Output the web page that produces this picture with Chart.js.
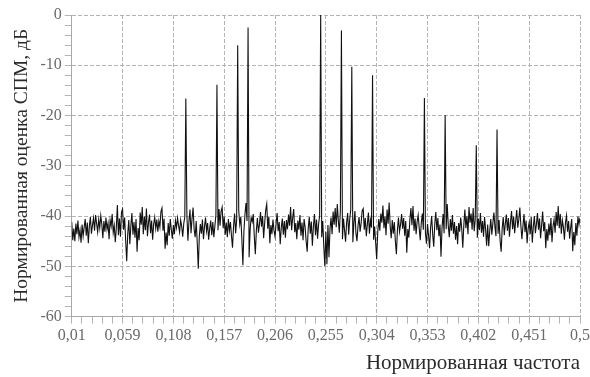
<!DOCTYPE html>
<html>
<head>
<meta charset="utf-8">
<title>Оценка СПМ</title>
<script src="https://cdn.jsdelivr.net/npm/chart.js@4/dist/chart.umd.min.js"></script>
<style>
    html, body { margin: 0; padding: 0; background: #fff; }
    #wrap { width: 590px; height: 377px; }
</style>
</head>
<body>
<div id="wrap"><canvas id="chart" width="590" height="377"></canvas></div>
<script>
/*global Chart*/
var F_START = 0.01;
var F_STEP = 0.001;

// noise floor, dB, one value per frequency bin from 0.010 to 0.500
var noiseDb = [
    -41.2, -44.8, -42.5, -45.0, -41.5, -43.6, -40.9, -44.2, -42.8, -45.3,
    -41.7, -44.0, -42.2, -40.6, -43.9, -41.3, -45.4, -42.0, -40.2, -43.5,
    -41.8, -40.4, -42.9, -39.8, -41.5, -43.2, -40.7, -42.4, -39.9, -41.6,
    -44.4, -41.0, -43.1, -40.3, -42.6, -41.4, -44.6, -40.8, -42.0, -39.6,
    -43.3, -41.9, -45.2, -42.3, -37.8, -43.8, -40.5, -44.1, -39.2,
    -38.6, -42.7, -40.3, -44.9, -49.0, -43.5, -40.8, -45.6, -41.9, -39.4,
    -43.7, -41.2, -44.3, -40.6, -47.1, -42.4, -44.8, -39.3, -41.7, -38.2,
    -43.6, -40.1, -42.8, -38.5, -44.0, -41.3, -39.7, -43.4, -40.9, -44.7,
    -41.6, -40.2, -42.5, -40.7, -43.1, -41.0, -42.2, -39.1, -38.4, -42.9,
    -40.5, -46.5, -43.3, -45.8, -41.4, -43.9, -40.6, -42.7, -44.5,
    -41.8, -43.6, -40.9, -42.3, -40.4, -41.9, -43.2, -40.8, -42.0, -44.1,
    -41.5, -40.2, -43.8, -39.6, -44.9, -41.1, -38.7, -43.4, -40.5, -38.3,
    -42.6, -44.2, -41.0, -45.3, -50.5, -44.0, -41.6, -43.5, -40.7, -44.6,
    -42.1, -40.3, -43.0, -41.4, -44.7, -42.5, -40.9, -43.8, -41.2, -44.2,
    -42.0, -39.8, -41.5, -42.8, -38.6, -41.9, -39.0, -38.2, -42.4,
    -40.1, -43.7, -41.3, -44.2, -40.6, -42.9, -41.2, -43.9, -46.3, -42.0,
    -39.5, -43.4, -40.8, -42.6, -38.9, -41.7, -40.2, -44.5, -49.8, -43.0,
    -39.7, -37.4, -41.0, -43.5, -48.2, -42.7, -40.3, -41.1, -39.6, -44.0,
    -47.6, -42.8, -40.4, -43.3, -41.6, -39.2, -42.1, -40.0, -44.4, -41.4,
    -38.8, -37.6, -42.5, -40.1, -45.4, -41.8, -43.6, -40.7, -42.9,
    -44.1, -41.5, -39.4, -43.0, -41.2, -45.6, -42.3, -40.5, -43.7, -41.0,
    -44.3, -40.8, -42.6, -39.7, -41.9, -38.2, -42.8, -40.3, -38.6, -43.2,
    -41.4, -44.6, -40.9, -42.7, -39.8, -43.9, -41.3, -44.8, -40.6, -42.2,
    -45.0, -47.1, -42.4, -40.2, -43.5, -41.1, -45.9, -42.0, -39.6, -43.8,
    -40.7, -44.5, -41.6, -39.9, -42.3, -44.2, -41.0, -46.0, -50.0,
    -43.1, -49.6, -41.8, -48.2, -42.5, -40.3, -43.6, -39.1, -41.7, -38.4,
    -42.2, -37.6, -40.9, -43.3, -38.8, -41.2, -44.6, -40.5, -42.8, -45.1,
    -41.3, -39.4, -43.7, -40.6, -38.7, -42.0, -45.2, -41.5, -39.0, -43.4,
    -45.0, -41.9, -40.2, -43.1, -41.4, -38.9, -38.5, -42.7, -40.4, -44.0,
    -41.6, -39.3, -43.5, -40.8, -42.3, -41.0, -44.7, -42.1, -45.3,
    -48.6, -43.2, -40.6, -42.9, -39.5, -41.3, -37.9, -42.4, -40.1, -43.8,
    -38.7, -41.5, -37.3, -42.0, -44.4, -40.8, -43.5, -41.2, -45.0, -47.6,
    -42.7, -40.3, -43.1, -41.7, -39.6, -42.5, -40.4, -43.9, -41.0, -47.3,
    -42.6, -44.3, -40.7, -38.4, -41.8, -38.0, -42.9, -40.5, -43.6, -41.1,
    -39.8, -42.4, -44.8, -41.3, -39.5, -42.7, -40.9, -43.4, -45.5,
    -41.6, -43.9, -46.4, -42.2, -40.0, -43.7, -46.1, -41.5, -39.2, -42.8,
    -40.4, -44.0, -41.7, -48.1, -42.3, -39.6, -43.4, -40.1, -42.6, -37.6,
    -41.9, -44.2, -40.6, -42.9, -39.8, -43.5, -41.2, -44.7, -42.0, -45.6,
    -41.4, -43.1, -40.3, -42.5, -46.3, -41.8, -38.7, -42.4, -40.0, -43.6,
    -38.2, -41.3, -39.5, -42.7, -38.4, -43.0, -40.7, -41.9, -44.3,
    -40.5, -42.8, -39.4, -43.3, -41.0, -44.1, -40.2, -42.6, -45.9, -41.7,
    -46.0, -42.9, -40.6, -43.7, -41.4, -39.3, -42.2, -44.0, -41.1, -43.5,
    -40.8, -44.9, -47.1, -42.4, -40.2, -43.8, -41.5, -39.7, -42.9, -40.4,
    -44.1, -41.2, -39.0, -42.6, -40.1, -43.4, -41.0, -38.8, -42.3, -40.7,
    -38.3, -41.9, -44.6, -42.0, -39.6, -43.2, -40.9, -45.4, -42.5,
    -41.3, -43.6, -40.2, -45.3, -42.1, -40.0, -43.4, -41.6, -39.4, -42.7,
    -40.5, -44.4, -41.8, -39.1, -43.0, -41.2, -46.4, -42.6, -44.9, -41.5,
    -43.8, -40.4, -45.2, -42.0, -40.7, -43.3, -39.2, -41.9, -38.0, -42.4,
    -39.6, -43.5, -40.8, -42.2, -44.7, -41.3, -39.9, -43.1, -41.0, -44.5,
    -42.3, -40.6, -47.0, -43.2, -45.8, -41.4, -43.9, -40.1, -41.7, -40.3
];

// spectral lines
var peakFreq = [0.12, 0.15, 0.17, 0.18, 0.25, 0.27, 0.28, 0.30, 0.35, 0.37, 0.40, 0.42];
var peakDb = [-16.6, -13.9, -6.0, -2.5, 0, -3.1, -10.3, -12.0, -16.5, -19.9, -25.9, -22.8];

var xTicks = [0.01, 0.059, 0.108, 0.157, 0.206, 0.255, 0.304, 0.353, 0.402, 0.451, 0.5];
var yTicks = [-60, -50, -40, -30, -20, -10, 0];

(function () {
    "use strict";

    var SERIF = "'Liberation Serif', 'Times New Roman', serif";
    var MINOR_PER_MAJOR = 5;

    var buildPoints = function () {
        var pts = [], i, idx;
        for (i = 0; i < noiseDb.length; i++) {
            pts.push({x: F_START + i * F_STEP, y: noiseDb[i]});
        }
        for (i = 0; i < peakFreq.length; i++) {
            idx = Math.round((peakFreq[i] - F_START) / F_STEP);
            pts[idx] = {x: peakFreq[i], y: peakDb[i]};
        }
        return pts;
    };

    // major ticks from the list plus unlabeled minor ticks in between
    var withMinor = function (majors) {
        return function (scale) {
            var ticks = [], i, j, a, b;
            for (i = 0; i < majors.length; i++) {
                ticks.push({value: majors[i], major: true});
                if (i < majors.length - 1) {
                    a = majors[i];
                    b = majors[i + 1];
                    for (j = 1; j < MINOR_PER_MAJOR; j++) {
                        ticks.push({value: a + (b - a) * j / MINOR_PER_MAJOR, major: false});
                    }
                }
            }
            scale.ticks = ticks;
        };
    };

    var gridColor = function (ctx) {
        return ctx.tick && ctx.tick.major ? '#b4b4b4' : 'rgba(0,0,0,0)';
    };

    var axisCommon = function (majors, fmt) {
        return {
            type: 'linear',
            min: majors[0],
            max: majors[majors.length - 1],
            afterBuildTicks: withMinor(majors),
            grid: {
                color: gridColor,
                tickColor: '#b4b4b4',
                tickLength: 7,
                lineWidth: 1
            },
            border: {
                display: true,
                color: '#a8a8a8',
                width: 1,
                dash: [4, 2]
            },
            ticks: {
                autoSkip: false,
                maxRotation: 0,
                padding: 3,
                color: '#6a6a6a',
                font: {family: SERIF, size: 16},
                callback: function (value, index, ticks) {
                    return ticks[index].major ? fmt(value) : '';
                }
            }
        };
    };

    var xAxis = axisCommon(xTicks, function (v) {
        return String(v).replace('.', ',');
    });
    xAxis.title = {
        display: true,
        text: 'Нормированная частота',
        align: 'end',
        color: '#2b2b2b',
        font: {family: SERIF, size: 21},
        padding: {top: 2, bottom: 0}
    };
    // the last label may hang a little past the plot edge
    xAxis.afterFit = function (scale) {
        scale.paddingRight = 10;
    };

    var yAxis = axisCommon(yTicks, function (v) {
        return String(v);
    });
    yAxis.title = {
        display: true,
        text: 'Нормированная оценка СПМ, дБ',
        color: '#2b2b2b',
        font: {family: SERIF, size: 19.5},
        padding: {top: 0, bottom: 4}
    };

    var ctx = window.document.getElementById('chart');
    new Chart(ctx, {
        type: 'line',
        data: {
            datasets: [{
                data: buildPoints(),
                borderColor: '#111',
                borderWidth: 1.1,
                pointRadius: 0,
                tension: 0,
                fill: false
            }]
        },
        options: {
            responsive: false,
            animation: false,
            parsing: false,
            layout: {padding: {left: 10, right: 0, top: 15, bottom: 1}},
            plugins: {
                legend: {display: false},
                tooltip: {enabled: false}
            },
            scales: {
                x: xAxis,
                y: yAxis
            }
        }
    });
}());
</script>
</body>
</html>
